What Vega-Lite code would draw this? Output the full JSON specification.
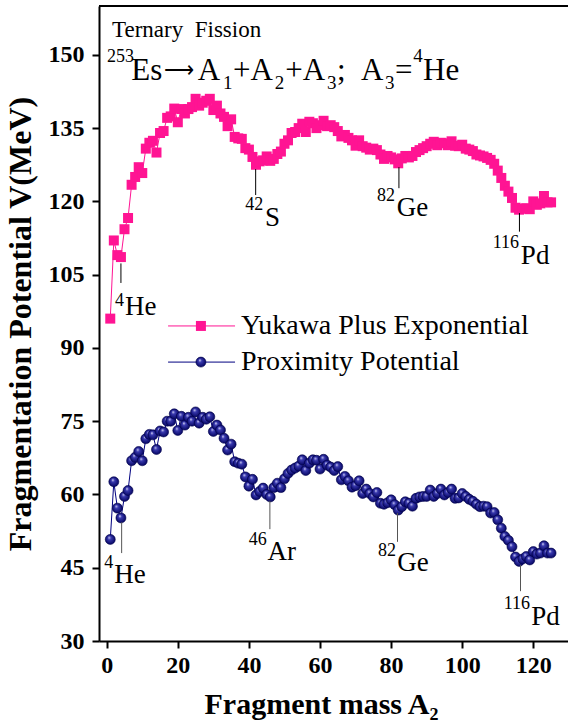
{
  "$schema": "https://vega.github.io/schema/vega-lite/v6.json",
  "autosize": "none",
  "width": 469,
  "height": 635,
  "padding": {"left": 99, "top": 6, "right": 0, "bottom": 84},
  "background": "white",
  "config": {"view": {"stroke": null}, "font": "Liberation Serif"},
  "datasets": {
    "yukawa": [
      {"A":1,"V":96.0},{"A":2,"V":112.0},{"A":3,"V":109.0},{"A":4,"V":108.6},{"A":5,"V":114.3},{"A":6,"V":116.6},{"A":7,"V":123.4},{"A":8,"V":125.0},{"A":9,"V":127.0},{"A":10,"V":125.8},
      {"A":11,"V":130.8},{"A":12,"V":132.0},{"A":13,"V":132.4},{"A":14,"V":130.0},{"A":15,"V":134.0},{"A":16,"V":134.4},{"A":17,"V":137.1},{"A":18,"V":137.4},{"A":19,"V":139.0},{"A":20,"V":136.2},
      {"A":21,"V":138.9},{"A":22,"V":138.0},{"A":23,"V":138.9},{"A":24,"V":139.3},{"A":25,"V":141.0},{"A":26,"V":139.6},{"A":27,"V":140.2},{"A":28,"V":140.6},{"A":29,"V":141.0},{"A":30,"V":138.7},
      {"A":31,"V":139.6},{"A":32,"V":138.0},{"A":33,"V":137.3},{"A":34,"V":135.4},{"A":35,"V":136.8},{"A":36,"V":133.2},{"A":37,"V":132.9},{"A":38,"V":132.8},{"A":39,"V":130.9},{"A":40,"V":130.6},
      {"A":41,"V":129.1},{"A":42,"V":127.5},{"A":43,"V":128.2},{"A":44,"V":128.4},{"A":45,"V":129.2},{"A":46,"V":128.3},{"A":47,"V":128.7},{"A":48,"V":129.7},{"A":49,"V":130.2},{"A":50,"V":131.8},
      {"A":51,"V":132.5},{"A":52,"V":134.0},{"A":53,"V":134.2},{"A":54,"V":135.0},{"A":55,"V":135.9},{"A":56,"V":134.2},{"A":57,"V":136.3},{"A":58,"V":136.0},{"A":59,"V":135.0},{"A":60,"V":135.6},
      {"A":61,"V":136.5},{"A":62,"V":135.4},{"A":63,"V":135.6},{"A":64,"V":135.2},{"A":65,"V":134.4},{"A":66,"V":133.3},{"A":67,"V":133.6},{"A":68,"V":133.0},{"A":69,"V":132.5},{"A":70,"V":131.4},
      {"A":71,"V":132.5},{"A":72,"V":131.3},{"A":73,"V":131.0},{"A":74,"V":130.6},{"A":75,"V":130.8},{"A":76,"V":130.5},{"A":77,"V":129.6},{"A":78,"V":128.7},{"A":79,"V":129.3},{"A":80,"V":129.0},
      {"A":81,"V":128.6},{"A":82,"V":127.8},{"A":83,"V":128.8},{"A":84,"V":129.3},{"A":85,"V":129.0},{"A":86,"V":129.3},{"A":87,"V":130.1},{"A":88,"V":130.5},{"A":89,"V":130.9},{"A":90,"V":131.3},
      {"A":91,"V":131.8},{"A":92,"V":132.2},{"A":93,"V":131.5},{"A":94,"V":132.0},{"A":95,"V":131.9},{"A":96,"V":131.5},{"A":97,"V":132.3},{"A":98,"V":131.4},{"A":99,"V":131.3},{"A":100,"V":131.6},
      {"A":101,"V":130.8},{"A":102,"V":130.6},{"A":103,"V":130.3},{"A":104,"V":129.6},{"A":105,"V":129.4},{"A":106,"V":129.2},{"A":107,"V":128.9},{"A":108,"V":128.5},{"A":109,"V":127.7},{"A":110,"V":126.3},
      {"A":111,"V":124.8},{"A":112,"V":123.2},{"A":113,"V":122.0},{"A":114,"V":120.7},{"A":115,"V":118.7},{"A":116,"V":118.3},{"A":117,"V":118.5},{"A":118,"V":118.6},{"A":119,"V":118.4},{"A":120,"V":120.0},
      {"A":121,"V":119.3},{"A":122,"V":119.6},{"A":123,"V":121.1},{"A":124,"V":119.8},{"A":125,"V":119.8}
    ],
    "proximity": [
      {"A":1,"V":50.8},{"A":2,"V":62.6},{"A":3,"V":57.2},{"A":4,"V":55.2},{"A":5,"V":59.6},{"A":6,"V":60.8},{"A":7,"V":66.9},{"A":8,"V":67.6},{"A":9,"V":68.8},{"A":10,"V":66.9},
      {"A":11,"V":71.4},{"A":12,"V":72.3},{"A":13,"V":72.2},{"A":14,"V":69.2},{"A":15,"V":73.0},{"A":16,"V":72.8},{"A":17,"V":75.0},{"A":18,"V":75.0},{"A":19,"V":76.5},{"A":20,"V":73.1},
      {"A":21,"V":76.0},{"A":22,"V":74.2},{"A":23,"V":75.8},{"A":24,"V":75.0},{"A":25,"V":76.9},{"A":26,"V":74.6},{"A":27,"V":75.8},{"A":28,"V":75.4},{"A":29,"V":75.9},{"A":30,"V":72.9},
      {"A":31,"V":74.2},{"A":32,"V":73.2},{"A":33,"V":71.5},{"A":34,"V":69.1},{"A":35,"V":70.3},{"A":36,"V":66.7},{"A":37,"V":66.4},{"A":38,"V":66.2},{"A":39,"V":63.6},{"A":40,"V":61.7},
      {"A":41,"V":63.1},{"A":42,"V":59.9},{"A":43,"V":60.6},{"A":44,"V":61.3},{"A":45,"V":60.0},{"A":46,"V":59.5},{"A":47,"V":61.4},{"A":48,"V":62.3},{"A":49,"V":61.4},{"A":50,"V":63.2},
      {"A":51,"V":64.3},{"A":52,"V":65.0},{"A":53,"V":65.4},{"A":54,"V":65.8},{"A":55,"V":67.1},{"A":56,"V":64.9},{"A":57,"V":66.4},{"A":58,"V":67.1},{"A":59,"V":67.0},{"A":60,"V":65.2},
      {"A":61,"V":67.2},{"A":62,"V":66.0},{"A":63,"V":65.6},{"A":64,"V":64.9},{"A":65,"V":65.7},{"A":66,"V":63.0},{"A":67,"V":63.7},{"A":68,"V":62.8},{"A":69,"V":61.5},{"A":70,"V":61.8},
      {"A":71,"V":62.8},{"A":72,"V":60.2},{"A":73,"V":61.1},{"A":74,"V":60.2},{"A":75,"V":59.5},{"A":76,"V":60.4},{"A":77,"V":58.2},{"A":78,"V":58.0},{"A":79,"V":58.3},{"A":80,"V":58.9},
      {"A":81,"V":57.9},{"A":82,"V":56.8},{"A":83,"V":57.5},{"A":84,"V":58.5},{"A":85,"V":58.2},{"A":86,"V":57.6},{"A":87,"V":59.2},{"A":88,"V":59.5},{"A":89,"V":59.6},{"A":90,"V":59.6},
      {"A":91,"V":60.9},{"A":92,"V":59.6},{"A":93,"V":60.2},{"A":94,"V":61.1},{"A":95,"V":59.9},{"A":96,"V":60.4},{"A":97,"V":61.1},{"A":98,"V":59.2},{"A":99,"V":59.3},{"A":100,"V":60.2},
      {"A":101,"V":59.6},{"A":102,"V":59.0},{"A":103,"V":58.6},{"A":104,"V":58.0},{"A":105,"V":57.5},{"A":106,"V":57.6},{"A":107,"V":57.5},{"A":108,"V":56.2},{"A":109,"V":56.3},{"A":110,"V":54.8},
      {"A":111,"V":53.1},{"A":112,"V":51.4},{"A":113,"V":50.6},{"A":114,"V":49.3},{"A":115,"V":47.2},{"A":116,"V":46.3},{"A":117,"V":46.8},{"A":118,"V":47.3},{"A":119,"V":46.6},{"A":120,"V":48.3},
      {"A":121,"V":47.8},{"A":122,"V":48.0},{"A":123,"V":49.5},{"A":124,"V":48.0},{"A":125,"V":48.0}
    ]
  },
  "layer": [
    {
      "data": {"name": "yukawa"},
      "mark": {"type": "line", "color": "#ff1493", "strokeWidth": 1},
      "encoding": {
        "x": {
          "field": "A", "type": "quantitative",
          "scale": {"domain": [-2.17, 129.76], "nice": false, "zero": false},
          "axis": {
            "values": [0, 10, 20, 30, 40, 50, 60, 70, 80, 90, 100, 110, 120],
            "labelExpr": "datum.value % 20 === 0 ? datum.label : ''",
            "grid": false,
            "domainColor": "black", "domainWidth": 2,
            "tickColor": "black", "tickWidth": 2,
            "tickSize": {"condition": {"test": "datum.value % 20 === 0", "value": 7}, "value": 4},
            "labelFont": "Liberation Serif", "labelFontWeight": "bold", "labelFontSize": 24, "labelColor": "black",
            "labelPadding": 5, "labelFlush": false, "labelOverlap": false,
            "title": "Fragment mass A₂",
            "titleFont": "Liberation Serif", "titleFontWeight": "bold", "titleFontSize": 30, "titleColor": "black",
            "titleX": 222,
            "titlePadding": 12
          }
        },
        "y": {
          "field": "V", "type": "quantitative",
          "scale": {"domain": [30, 160], "nice": false, "zero": false},
          "axis": {
            "values": [30, 45, 60, 75, 90, 105, 120, 135, 150],
            "grid": false,
            "domainColor": "black", "domainWidth": 2,
            "tickColor": "black", "tickWidth": 2, "tickSize": 7,
            "labelFont": "Liberation Serif", "labelFontWeight": "bold", "labelFontSize": 24, "labelColor": "black",
            "labelPadding": 8, "labelFlush": false, "labelOverlap": false,
            "title": "Fragmentation Potential V(MeV)",
            "titleFont": "Liberation Serif", "titleFontWeight": "bold", "titleFontSize": 32, "titleColor": "black",
            "titlePadding": 11
          }
        }
      }
    },
    {
      "data": {"name": "yukawa"},
      "mark": {"type": "point", "shape": "square", "size": 100, "filled": true, "color": "#ff1493", "opacity": 1},
      "encoding": {"x": {"field": "A", "type": "quantitative"}, "y": {"field": "V", "type": "quantitative"}}
    },
    {
      "data": {"name": "proximity"},
      "mark": {"type": "line", "color": "#000080", "strokeWidth": 1},
      "encoding": {"x": {"field": "A", "type": "quantitative"}, "y": {"field": "V", "type": "quantitative"}}
    },
    {
      "data": {"name": "proximity"},
      "mark": {
        "type": "point", "shape": "circle", "size": 100, "opacity": 1,
        "fill": {"gradient": "radial", "x1": 0.38, "y1": 0.3, "r1": 0, "x2": 0.5, "y2": 0.5, "r2": 0.55,
                 "stops": [{"offset": 0, "color": "#e8e8ff"}, {"offset": 0.3, "color": "#3a3ab0"}, {"offset": 1, "color": "#00005a"}]},
        "stroke": "#00004a", "strokeWidth": 0.6
      },
      "encoding": {"x": {"field": "A", "type": "quantitative"}, "y": {"field": "V", "type": "quantitative"}}
    },
    {
      "data": {"values": [{}]},
      "mark": {"type": "rule", "color": "black", "strokeWidth": 2},
      "encoding": {"x": {"datum": -2.17}, "x2": {"datum": 129.76}, "y": {"datum": 160}}
    },

    {"data": {"values": [{}]}, "mark": {"type": "rule", "color": "#ff1493", "strokeWidth": 1},
     "encoding": {"x": {"datum": 17.26}, "x2": {"datum": 36.1}, "y": {"datum": 94.5}}},
    {"data": {"values": [{}]}, "mark": {"type": "point", "shape": "square", "size": 100, "filled": true, "color": "#ff1493", "opacity": 1},
     "encoding": {"x": {"datum": 26.5}, "y": {"datum": 94.5}}},
    {"data": {"values": [{}]}, "mark": {"type": "text", "align": "left", "baseline": "middle", "fontSize": 28, "font": "Liberation Serif", "color": "black"},
     "encoding": {"x": {"datum": 37.8}, "y": {"datum": 94.5}, "text": {"value": "Yukawa Plus Exponential"}}},
    {"data": {"values": [{}]}, "mark": {"type": "rule", "color": "#000080", "strokeWidth": 1},
     "encoding": {"x": {"datum": 17.26}, "x2": {"datum": 36.1}, "y": {"datum": 87.1}}},
    {"data": {"values": [{}]}, "mark": {"type": "point", "shape": "circle", "size": 100, "opacity": 1,
       "fill": {"gradient": "radial", "x1": 0.38, "y1": 0.3, "r1": 0, "x2": 0.5, "y2": 0.5, "r2": 0.55,
                "stops": [{"offset": 0, "color": "#e8e8ff"}, {"offset": 0.3, "color": "#3a3ab0"}, {"offset": 1, "color": "#00005a"}]},
       "stroke": "#00004a", "strokeWidth": 0.6},
     "encoding": {"x": {"datum": 26.5}, "y": {"datum": 87.1}}},
    {"data": {"values": [{}]}, "mark": {"type": "text", "align": "left", "baseline": "middle", "fontSize": 28, "font": "Liberation Serif", "color": "black"},
     "encoding": {"x": {"datum": 37.8}, "y": {"datum": 87.1}, "text": {"value": "Proximity Potential"}}},

    {"data": {"values": [{}]}, "mark": {"type": "text", "align": "left", "baseline": "alphabetic", "fontSize": 23, "font": "Liberation Serif", "color": "black"},
     "encoding": {"x": {"datum": 1.5}, "y": {"datum": 153.7}, "text": {"value": "Ternary\u00a0 Fission"}}},
    {"data": {"values": [{}]}, "mark": {"type": "text", "align": "left", "baseline": "alphabetic", "fontSize": 18, "font": "Liberation Serif", "color": "black"},
     "encoding": {"x": {"datum": 0.08}, "y": {"datum": 148.6}, "text": {"value": "253"}}},
    {"data": {"values": [{}]}, "mark": {"type": "text", "align": "left", "baseline": "alphabetic", "fontSize": 31, "font": "Liberation Serif", "color": "black"},
     "encoding": {"x": {"datum": 6.9}, "y": {"datum": 144.9}, "text": {"value": "Es"}}},
    {"data": {"values": [{}]}, "mark": {"type": "text", "align": "center", "baseline": "alphabetic", "fontSize": 21, "font": "Liberation Serif", "color": "black"},
     "encoding": {"x": {"datum": 20.3}, "y": {"datum": 145.4}, "text": {"value": "⟶"}}},
    {"data": {"values": [{}]}, "mark": {"type": "text", "align": "left", "baseline": "alphabetic", "fontSize": 31, "font": "Liberation Serif", "color": "black"},
     "encoding": {"x": {"datum": 25.6}, "y": {"datum": 144.9}, "text": {"value": "A"}}},
    {"data": {"values": [{}]}, "mark": {"type": "text", "align": "left", "baseline": "alphabetic", "fontSize": 19, "font": "Liberation Serif", "color": "black"},
     "encoding": {"x": {"datum": 32.7}, "y": {"datum": 143.0}, "text": {"value": "1"}}},
    {"data": {"values": [{}]}, "mark": {"type": "text", "align": "left", "baseline": "alphabetic", "fontSize": 31, "font": "Liberation Serif", "color": "black"},
     "encoding": {"x": {"datum": 35.5}, "y": {"datum": 144.9}, "text": {"value": "+A"}}},
    {"data": {"values": [{}]}, "mark": {"type": "text", "align": "left", "baseline": "alphabetic", "fontSize": 19, "font": "Liberation Serif", "color": "black"},
     "encoding": {"x": {"datum": 47.3}, "y": {"datum": 143.0}, "text": {"value": "2"}}},
    {"data": {"values": [{}]}, "mark": {"type": "text", "align": "left", "baseline": "alphabetic", "fontSize": 31, "font": "Liberation Serif", "color": "black"},
     "encoding": {"x": {"datum": 50.2}, "y": {"datum": 144.9}, "text": {"value": "+A"}}},
    {"data": {"values": [{}]}, "mark": {"type": "text", "align": "left", "baseline": "alphabetic", "fontSize": 19, "font": "Liberation Serif", "color": "black"},
     "encoding": {"x": {"datum": 62.0}, "y": {"datum": 143.0}, "text": {"value": "3"}}},
    {"data": {"values": [{}]}, "mark": {"type": "text", "align": "left", "baseline": "alphabetic", "fontSize": 31, "font": "Liberation Serif", "color": "black"},
     "encoding": {"x": {"datum": 64.8}, "y": {"datum": 144.9}, "text": {"value": ";"}}},
    {"data": {"values": [{}]}, "mark": {"type": "text", "align": "left", "baseline": "alphabetic", "fontSize": 31, "font": "Liberation Serif", "color": "black"},
     "encoding": {"x": {"datum": 71.5}, "y": {"datum": 144.9}, "text": {"value": "A"}}},
    {"data": {"values": [{}]}, "mark": {"type": "text", "align": "left", "baseline": "alphabetic", "fontSize": 19, "font": "Liberation Serif", "color": "black"},
     "encoding": {"x": {"datum": 78.3}, "y": {"datum": 143.0}, "text": {"value": "3"}}},
    {"data": {"values": [{}]}, "mark": {"type": "text", "align": "left", "baseline": "alphabetic", "fontSize": 31, "font": "Liberation Serif", "color": "black"},
     "encoding": {"x": {"datum": 81.1}, "y": {"datum": 144.9}, "text": {"value": "="}}},
    {"data": {"values": [{}]}, "mark": {"type": "text", "align": "left", "baseline": "alphabetic", "fontSize": 19, "font": "Liberation Serif", "color": "black"},
     "encoding": {"x": {"datum": 86.2}, "y": {"datum": 148.6}, "text": {"value": "4"}}},
    {"data": {"values": [{}]}, "mark": {"type": "text", "align": "left", "baseline": "alphabetic", "fontSize": 31, "font": "Liberation Serif", "color": "black"},
     "encoding": {"x": {"datum": 89.0}, "y": {"datum": 144.9}, "text": {"value": "He"}}},

    {"data": {"values": [{}]}, "mark": {"type": "rule", "color": "black", "strokeWidth": 1},
     "encoding": {"x": {"datum": 4}, "y": {"datum": 107.3}, "y2": {"datum": 103.3}}},
    {"data": {"values": [{}]}, "mark": {"type": "text", "align": "right", "baseline": "alphabetic", "fontSize": 18, "font": "Liberation Serif", "color": "black"},
     "encoding": {"x": {"datum": 4.87}, "y": {"datum": 98.5}, "text": {"value": "4"}}},
    {"data": {"values": [{}]}, "mark": {"type": "text", "align": "left", "baseline": "alphabetic", "fontSize": 27, "font": "Liberation Serif", "color": "black"},
     "encoding": {"x": {"datum": 5.15}, "y": {"datum": 96.8}, "text": {"value": "He"}}},

    {"data": {"values": [{}]}, "mark": {"type": "rule", "color": "black", "strokeWidth": 1},
     "encoding": {"x": {"datum": 41.9}, "y": {"datum": 126.6}, "y2": {"datum": 121.3}}},
    {"data": {"values": [{}]}, "mark": {"type": "text", "align": "right", "baseline": "alphabetic", "fontSize": 18, "font": "Liberation Serif", "color": "black"},
     "encoding": {"x": {"datum": 44.05}, "y": {"datum": 118.3}, "text": {"value": "42"}}},
    {"data": {"values": [{}]}, "mark": {"type": "text", "align": "left", "baseline": "alphabetic", "fontSize": 27, "font": "Liberation Serif", "color": "black"},
     "encoding": {"x": {"datum": 44.5}, "y": {"datum": 115.0}, "text": {"value": "S"}}},

    {"data": {"values": [{}]}, "mark": {"type": "rule", "color": "black", "strokeWidth": 1},
     "encoding": {"x": {"datum": 82.2}, "y": {"datum": 127.0}, "y2": {"datum": 122.7}}},
    {"data": {"values": [{}]}, "mark": {"type": "text", "align": "right", "baseline": "alphabetic", "fontSize": 18, "font": "Liberation Serif", "color": "black"},
     "encoding": {"x": {"datum": 81.1}, "y": {"datum": 120.0}, "text": {"value": "82"}}},
    {"data": {"values": [{}]}, "mark": {"type": "text", "align": "left", "baseline": "alphabetic", "fontSize": 27, "font": "Liberation Serif", "color": "black"},
     "encoding": {"x": {"datum": 81.6}, "y": {"datum": 117.0}, "text": {"value": "Ge"}}},

    {"data": {"values": [{}]}, "mark": {"type": "rule", "color": "black", "strokeWidth": 1},
     "encoding": {"x": {"datum": 116.1}, "y": {"datum": 117.6}, "y2": {"datum": 113.8}}},
    {"data": {"values": [{}]}, "mark": {"type": "text", "align": "right", "baseline": "alphabetic", "fontSize": 18, "font": "Liberation Serif", "color": "black"},
     "encoding": {"x": {"datum": 116.0}, "y": {"datum": 110.5}, "text": {"value": "116"}}},
    {"data": {"values": [{}]}, "mark": {"type": "text", "align": "left", "baseline": "alphabetic", "fontSize": 27, "font": "Liberation Serif", "color": "black"},
     "encoding": {"x": {"datum": 116.5}, "y": {"datum": 107.2}, "text": {"value": "Pd"}}},

    {"data": {"values": [{}]}, "mark": {"type": "rule", "color": "#555555", "strokeWidth": 1},
     "encoding": {"x": {"datum": 4.2}, "y": {"datum": 54.3}, "y2": {"datum": 48.0}}},
    {"data": {"values": [{}]}, "mark": {"type": "text", "align": "right", "baseline": "alphabetic", "fontSize": 18, "font": "Liberation Serif", "color": "black"},
     "encoding": {"x": {"datum": 1.86}, "y": {"datum": 44.9}, "text": {"value": "4"}}},
    {"data": {"values": [{}]}, "mark": {"type": "text", "align": "left", "baseline": "alphabetic", "fontSize": 27, "font": "Liberation Serif", "color": "black"},
     "encoding": {"x": {"datum": 2.14}, "y": {"datum": 41.8}, "text": {"value": "He"}}},

    {"data": {"values": [{}]}, "mark": {"type": "rule", "color": "#555555", "strokeWidth": 1},
     "encoding": {"x": {"datum": 45.9}, "y": {"datum": 58.7}, "y2": {"datum": 52.9}}},
    {"data": {"values": [{}]}, "mark": {"type": "text", "align": "right", "baseline": "alphabetic", "fontSize": 18, "font": "Liberation Serif", "color": "black"},
     "encoding": {"x": {"datum": 45.0}, "y": {"datum": 49.7}, "text": {"value": "46"}}},
    {"data": {"values": [{}]}, "mark": {"type": "text", "align": "left", "baseline": "alphabetic", "fontSize": 27, "font": "Liberation Serif", "color": "black"},
     "encoding": {"x": {"datum": 45.2}, "y": {"datum": 46.6}, "text": {"value": "Ar"}}},

    {"data": {"values": [{}]}, "mark": {"type": "rule", "color": "#555555", "strokeWidth": 1},
     "encoding": {"x": {"datum": 81.8}, "y": {"datum": 56.2}, "y2": {"datum": 50.3}}},
    {"data": {"values": [{}]}, "mark": {"type": "text", "align": "right", "baseline": "alphabetic", "fontSize": 18, "font": "Liberation Serif", "color": "black"},
     "encoding": {"x": {"datum": 81.4}, "y": {"datum": 47.3}, "text": {"value": "82"}}},
    {"data": {"values": [{}]}, "mark": {"type": "text", "align": "left", "baseline": "alphabetic", "fontSize": 27, "font": "Liberation Serif", "color": "black"},
     "encoding": {"x": {"datum": 81.7}, "y": {"datum": 44.4}, "text": {"value": "Ge"}}},

    {"data": {"values": [{}]}, "mark": {"type": "rule", "color": "#555555", "strokeWidth": 1},
     "encoding": {"x": {"datum": 116.4}, "y": {"datum": 45.6}, "y2": {"datum": 40.2}}},
    {"data": {"values": [{}]}, "mark": {"type": "text", "align": "right", "baseline": "alphabetic", "fontSize": 18, "font": "Liberation Serif", "color": "black"},
     "encoding": {"x": {"datum": 119.1}, "y": {"datum": 36.6}, "text": {"value": "116"}}},
    {"data": {"values": [{}]}, "mark": {"type": "text", "align": "left", "baseline": "alphabetic", "fontSize": 27, "font": "Liberation Serif", "color": "black"},
     "encoding": {"x": {"datum": 119.4}, "y": {"datum": 33.3}, "text": {"value": "Pd"}}}
  ]
}
